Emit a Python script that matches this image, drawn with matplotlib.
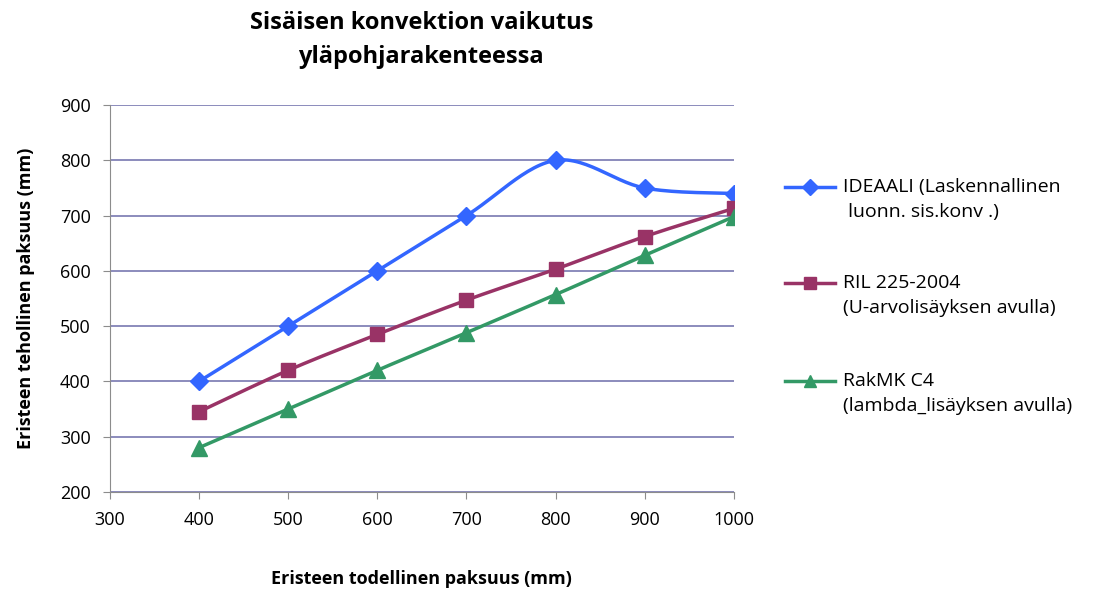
import numpy as np
import matplotlib
matplotlib.use("Agg")
import matplotlib.pyplot as plt
from matplotlib.lines import Line2D

plt.rcParams['font.family'] = ['Open Sans', 'DejaVu Sans']

thickness = [400, 500, 600, 700, 800, 900, 1000]
ideaali = [400, 500, 600, 700, 800, 750, 740]
ril = [345, 420, 485, 547, 603, 662, 713]
rakmk = [280, 350, 420, 488, 557, 628, 698]

series_labels = [
    "IDEAALI (Laskennallinen\n luonn. sis.konv .)",
    "RIL 225-2004\n(U-arvolisäyksen avulla)",
    "RakMK C4\n(lambda_lisäyksen avulla)",
]
colors = ["#3366FF", "#993366", "#339966"]
markers = ["D", "s", "^"]
msizes = [9, 10.5, 11]

W, H = 1100, 594


def smooth(x, y, n=30):
    """Smoothed line through the points (cardinal Bezier segments)."""
    x = np.asarray(x, float)
    y = np.asarray(y, float)
    px = np.concatenate([[x[0]], x, [x[-1]]])
    py = np.concatenate([[y[0]], y, [y[-1]]])
    xs, ys = [], []
    t = np.linspace(0, 1, n)
    for i in range(1, len(px) - 2):
        p0 = np.array([px[i], py[i]])
        p3 = np.array([px[i + 1], py[i + 1]])
        c1 = p0 + (np.array([px[i + 1], py[i + 1]]) - np.array([px[i - 1], py[i - 1]])) / 6
        c2 = p3 - (np.array([px[i + 2], py[i + 2]]) - np.array([px[i], py[i]])) / 6
        b = ((1 - t) ** 3)[:, None] * p0 + (3 * (1 - t) ** 2 * t)[:, None] * c1 \
            + (3 * (1 - t) * t ** 2)[:, None] * c2 + (t ** 3)[:, None] * p3
        xs.extend(b[:, 0])
        ys.extend(b[:, 1])
    return np.array(xs), np.array(ys)


fig = plt.figure(figsize=(W / 100, H / 100), dpi=100)
ax = fig.add_axes([0.100, 0.172, 0.567, 0.651])

for vals, c, m, ms in zip([ideaali, ril, rakmk], colors, markers, msizes):
    sx, sy = smooth(thickness, vals)
    ax.plot(sx, sy, color=c, lw=2.5, zorder=3)
    ax.plot(thickness, vals, linestyle='none', marker=m, ms=ms, color=c, zorder=4)

ax.set_xlim(300, 1000)
ax.set_ylim(200, 900)
ax.set_xticks(range(300, 1001, 100))
ax.set_yticks(range(200, 901, 100))
ax.grid(axis='y', color='#7878b0', lw=1.2)
ax.set_axisbelow(True)
for s in ['top', 'right']:
    ax.spines[s].set_visible(False)
for s in ['left', 'bottom']:
    ax.spines[s].set_color('#8c8c8c')
ax.tick_params(axis='both', colors='#8c8c8c', labelcolor='black', labelsize=13, length=5)
ax.tick_params(axis='x', pad=9)
ax.tick_params(axis='y', pad=9)

ax.set_xlabel("Eristeen todellinen paksuus (mm)", fontsize=13, fontweight='bold', labelpad=29)
ax.set_ylabel("Eristeen tehollinen paksuus (mm)", fontsize=13, fontweight='bold', labelpad=18)
fig.text(0.383, 0.982, "Sisäisen konvektion vaikutus\nyläpohjarakenteessa", fontsize=17,
         fontweight='bold', ha='center', va='top', linespacing=1.55)

# Legend: sample line with marker beside a two-line label, first line level with the sample
legend_rows = [187, 283, 381]
for row, c, m, ms, lab in zip(legend_rows, colors, markers, msizes, series_labels):
    yf = 1 - row / H
    fig.add_artist(Line2D([785 / W, 835 / W], [yf, yf], color=c, lw=2.5))
    fig.add_artist(Line2D([810 / W], [yf], color=c, marker=m, ms=ms * 0.85, linestyle='none'))
    fig.text(843 / W, 1 - (row - 9) / H, lab, fontsize=14, ha='left', va='top',
             linespacing=1.5)

fig.savefig("out.png", dpi=100)
